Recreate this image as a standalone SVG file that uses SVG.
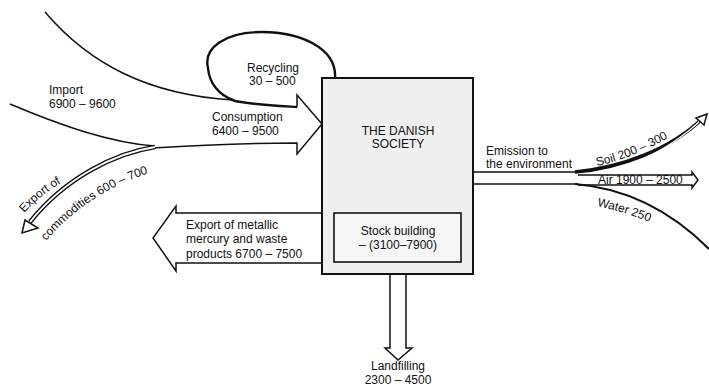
<svg xmlns="http://www.w3.org/2000/svg" width="709" height="387" viewBox="0 0 709 387">
<style>
text{font-family:"Liberation Sans",Arial,sans-serif;font-size:12px;fill:#111}
.mid{text-anchor:middle}
.ln{fill:none;stroke:#111;stroke-width:1.5;stroke-linejoin:miter}
.arr{fill:#fff;stroke:#111;stroke-width:1.5;stroke-linejoin:miter}
.dbo{fill:none;stroke:#111;stroke-width:4.5}
.dbi{fill:none;stroke:#fff;stroke-width:1.8}
.box{fill:#efefef;stroke:#111;stroke-width:2}
.inner{fill:#f6f6f6;stroke:#111;stroke-width:1.6}
.loop{fill:none;stroke:#111;stroke-width:2.4}
</style>
<defs>
<path id="pExp1" d="M 24,213 C 38,198 52,187 82,171"/>
<path id="pExp2" d="M 46,241 C 72,211 112,178 185,164"/>
<path id="pSoil" d="M 597,166 C 625,160 660,146 700,118"/>
<path id="pWater" d="M 597,206 C 620,211 640,217 670,231"/>
</defs>
<rect width="709" height="387" fill="#fff"/>
<g id="connectors">
  <!-- import lines and consumption arrow -->
  <path class="ln" d="M 45,12 C 90,65 150,95 233,100"/>
  <path class="ln" d="M 10,104 C 60,125 110,143 155,146"/>
  <path class="ln" d="M 153,148 C 200,145 250,143 297,143 L 297,154 L 322,124 L 297,95 L 297,107"/>
  <!-- recycling loop -->
  <path class="loop" d="M 335,78 C 337,48 300,32 262,32 C 225,32 203,48 208,68 C 209,82 218,95 235,101 C 255,105 280,106 297,107"/>
  <!-- export of commodities -->
  <path class="dbo" d="M 155,147 C 115,153 65,178 30,222"/>
  <path class="dbi" d="M 155,147 C 115,153 65,178 30,222"/>
  <polygon class="arr" points="22,233 25,220 38,228"/>
  <!-- export of metallic mercury -->
  <path class="arr" d="M 322,213 L 176,213 L 176,206 L 153,238 L 176,271 L 176,263 L 322,263"/>
  <!-- landfilling -->
  <path class="arr" d="M 390,274 L 390,348 L 385,348 L 398,360 L 412,348 L 406,348 L 406,274"/>
  <!-- emission -->
  <path class="ln" d="M 473,172 L 578,172"/>
  <path class="ln" d="M 473,184 L 578,184"/>
  <path class="dbo" style="stroke-width:3.6" d="M 575,172 C 620,168 670,150 703,118"/>
  <path class="dbi" style="stroke-width:1.2" d="M 640,160 C 660,152 685,136 703,118"/>
  <polygon class="arr" points="707,114 696,118 704,125"/>
  <path class="ln" d="M 578,175 L 692,175 L 692,172 L 698,180 L 692,188 L 692,185 L 578,185"/>
  <path class="ln" style="stroke-width:2" d="M 575,184 C 625,188 670,210 709,249"/>
</g>
<g id="society">
  <rect class="box" x="322" y="78" width="151" height="196"/>
  <text class="mid" x="398" y="135">THE DANISH</text>
  <text class="mid" x="398" y="148">SOCIETY</text>
</g>
<g id="stock">
  <rect class="inner" x="334" y="213" width="127" height="49"/>
  <text class="mid" x="398" y="235">Stock building</text>
  <text class="mid" x="398" y="249">– (3100–7900)</text>
</g>
<g id="labels">
  <text x="247" y="72">Recycling</text>
  <text x="249" y="85">30 – 500</text>
  <text x="49" y="94">Import</text>
  <text x="49" y="108">6900 – 9600</text>
  <text x="212" y="121">Consumption</text>
  <text x="212" y="135">6400 – 9500</text>
  <text><textPath href="#pExp1">Export of</textPath></text>
  <text><textPath href="#pExp2">commodities 600 – 700</textPath></text>
  <text x="186" y="229">Export of metallic</text>
  <text x="186" y="243">mercury and waste</text>
  <text x="186" y="258">products 6700 – 7500</text>
  <text class="mid" x="398" y="370">Landfilling</text>
  <text class="mid" x="398" y="384">2300 – 4500</text>
  <text x="486" y="155">Emission to</text>
  <text x="486" y="168">the environment</text>
  <text><textPath href="#pSoil">Soil 200 – 300</textPath></text>
  <text x="598" y="184">Air 1900 – 2500</text>
  <text><textPath href="#pWater">Water 250</textPath></text>
</g>
</svg>
